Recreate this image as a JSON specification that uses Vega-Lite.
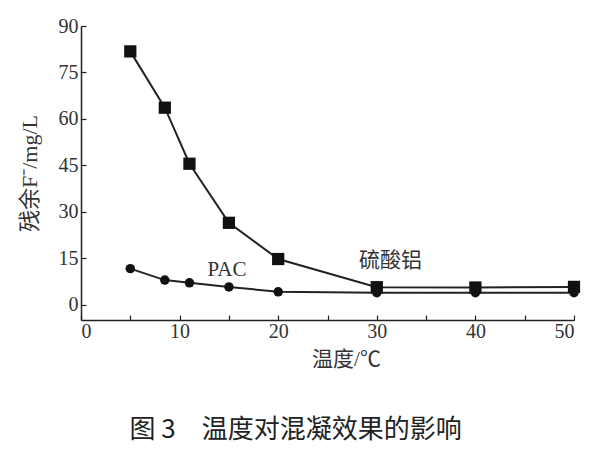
{
  "$schema": "https://vega.github.io/schema/vega-lite/v6.json",
  "width": 493,
  "height": 294,
  "autosize": {"type": "none"},
  "padding": {"left": 81, "top": 26, "right": 26, "bottom": 130},
  "background": "white",
  "title": {
    "text": "图\u00a03\u3000温度对混凝效果的影响",
    "orient": "bottom",
    "anchor": "middle",
    "font": "Noto Sans CJK SC",
    "fontSize": 26,
    "fontWeight": "normal",
    "color": "#222",
    "offset": 48,
    "dx": -32
  },
  "config": {
    "view": {"stroke": null},
    "axis": {
      "domainColor": "#222",
      "domainWidth": 1.5,
      "tickColor": "#222",
      "tickWidth": 1.2,
      "tickSize": -5,
      "grid": false,
      "labelFont": "Liberation Serif",
      "labelFontSize": 20,
      "labelColor": "#333",
      "titleFont": "Liberation Serif, Noto Sans CJK SC",
      "titleFontSize": 21,
      "titleFontWeight": "normal",
      "titleColor": "#333"
    }
  },
  "datasets": {
    "main": [
      {"series": "硫酸铝", "x": 5, "y": 81.8},
      {"series": "硫酸铝", "x": 8.5, "y": 63.6},
      {"series": "硫酸铝", "x": 11, "y": 45.5},
      {"series": "硫酸铝", "x": 15, "y": 26.4},
      {"series": "硫酸铝", "x": 20, "y": 14.7},
      {"series": "硫酸铝", "x": 30, "y": 5.6},
      {"series": "硫酸铝", "x": 40, "y": 5.5},
      {"series": "硫酸铝", "x": 50, "y": 5.7},
      {"series": "PAC", "x": 5, "y": 11.6},
      {"series": "PAC", "x": 8.5, "y": 7.9},
      {"series": "PAC", "x": 11, "y": 7.0},
      {"series": "PAC", "x": 15, "y": 5.7},
      {"series": "PAC", "x": 20, "y": 4.1},
      {"series": "PAC", "x": 30, "y": 3.8},
      {"series": "PAC", "x": 40, "y": 3.8},
      {"series": "PAC", "x": 50, "y": 3.8}
    ],
    "notes": [
      {"label": "PAC", "x": 14.8, "y": 11.3},
      {"label": "硫酸铝", "x": 31.4, "y": 14}
    ]
  },
  "layer": [
    {
      "data": {"name": "main"},
      "mark": {"type": "line", "color": "#222", "strokeWidth": 2},
      "encoding": {
        "x": {
          "field": "x", "type": "quantitative",
          "scale": {"domain": [0, 50], "nice": false},
          "axis": {
            "values": [0, 5, 10, 15, 20, 25, 30, 35, 40, 45, 50],
            "labelExpr": "datum.value % 10 == 0 ? datum.label : ''",
            "labelPadding": 6,
            "title": "温度/℃",
            "titleX": 265,
            "titlePadding": 7
          }
        },
        "y": {
          "field": "y", "type": "quantitative",
          "scale": {"domain": [-5, 90], "nice": false, "zero": false},
          "axis": {
            "values": [0, 7.5, 15, 22.5, 30, 37.5, 45, 52.5, 60, 67.5, 75, 82.5, 90],
            "labelExpr": "datum.value % 15 == 0 ? datum.label : ''",
            "labelPadding": 8,
            "title": "残余F⁻/mg/L",
            "titleFontSize": 22,
            "titlePadding": 17
          }
        },
        "detail": {"field": "series"}
      }
    },
    {
      "data": {"name": "main"},
      "mark": {"type": "point", "filled": true, "opacity": 1, "color": "#111"},
      "encoding": {
        "x": {"field": "x", "type": "quantitative"},
        "y": {"field": "y", "type": "quantitative"},
        "shape": {
          "field": "series", "type": "nominal",
          "scale": {"domain": ["硫酸铝", "PAC"], "range": ["square", "circle"]},
          "legend": null
        },
        "size": {
          "field": "series", "type": "nominal",
          "scale": {"domain": ["硫酸铝", "PAC"], "range": [150, 90]},
          "legend": null
        }
      }
    },
    {
      "data": {"name": "notes"},
      "mark": {"type": "text", "font": "Liberation Serif, Noto Sans CJK SC", "fontSize": 21, "color": "#333", "align": "center", "baseline": "middle"},
      "encoding": {
        "x": {"field": "x", "type": "quantitative"},
        "y": {"field": "y", "type": "quantitative"},
        "text": {"field": "label"}
      }
    }
  ]
}
